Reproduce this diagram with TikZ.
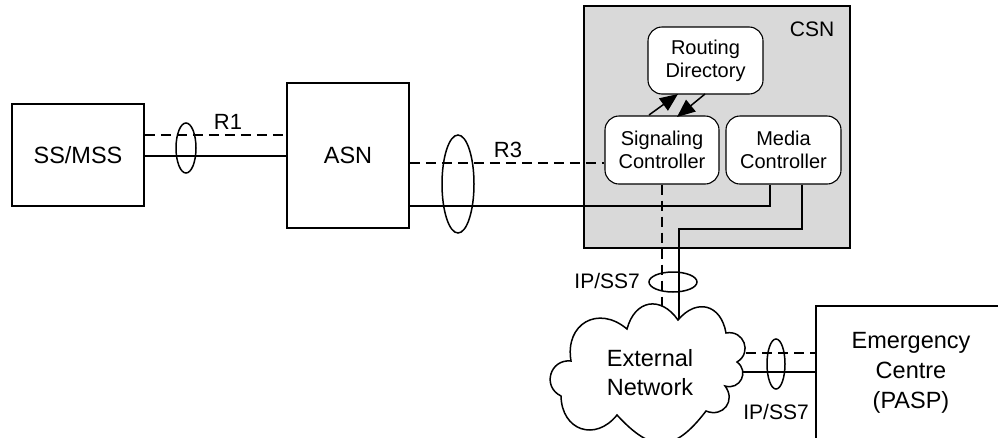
\documentclass[tikz,border=0pt]{standalone}
\usepackage{fontspec}
\setmainfont{Liberation Sans}
\usetikzlibrary{shapes.geometric,arrows.meta,calc}
\definecolor{csngray}{HTML}{D9D9D9}
\tikzset{
  box/.style={draw, line width=1.5pt, align=center, font=\fontsize{23.5}{30}\selectfont, inner sep=0pt},
  rbox/.style={draw, line width=1.1pt, fill=white, rounded corners=14pt, align=center, font=\fontsize{20}{23}\selectfont, inner sep=0pt},
  lbl/.style={font=\fontsize{22}{26}\selectfont, inner sep=0pt},
  solidline/.style={line width=1.5pt},
  dashline/.style={line width=1.5pt, dash pattern=on 10pt off 6pt},
  bundle/.style={draw, line width=1.5pt},
  arr/.style={line width=1.5pt, -{Triangle[length=18pt,width=15pt]}},
  puff/.style={bend left=#1, looseness=1.5}
}
\begin{document}
\begin{tikzpicture}[x=1pt,y=-1pt]
\useasboundingbox (0,0) rectangle (998,437);
\clip (0,0) rectangle (998,437);
% CSN
\node[draw, line width=1.5pt, fill=csngray, minimum width=266pt, minimum height=242pt, inner sep=0pt] (csn) at (717,127) {};
\node[lbl, font=\fontsize{21}{24}\selectfont] (csnlbl) at (812,29.5) {CSN};
\node[rbox, minimum width=115pt, minimum height=67pt] (rd) at (705.5,60.5) {Routing\\Directory};
\node[rbox, minimum width=114pt, minimum height=68pt] (sig) at (662,150) {Signaling\\Controller};
\node[rbox, minimum width=115pt, minimum height=68pt] (med) at (783.5,150) {Media\\Controller};
% other boxes
\node[box, minimum width=132pt, minimum height=102pt] (ss) at (78,155) {SS/MSS};
\node[box, minimum width=122pt, minimum height=145pt] (asn) at (348,155.5) {ASN};
\node[box, minimum width=190pt, minimum height=134pt] (ec) at (911,373) {Emergency\\Centre\\(PASP)};
% level coordinates
\coordinate (y1d) at (0,135);
\coordinate (y1s) at (0,156);
\coordinate (y3d) at (0,163);
\coordinate (y3s) at (0,206);
\coordinate (yed) at (0,353);
\coordinate (yes) at (0,372);
\coordinate (cl) at (650,373);
% arrows between signaling and routing
\coordinate (a1s) at (649,115);
\coordinate (a1e) at (678,94);
\coordinate (a2s) at (705,94);
\coordinate (a2e) at (677,117);
\draw[arr] (a1s) -- (a1e);
\draw[arr] (a2s) -- (a2e);
% R1
\draw[dashline] (ss.east |- y1d) -- (asn.west |- y1d);
\draw[solidline] (ss.east |- y1s) -- (asn.west |- y1s);
\node[bundle, ellipse, minimum width=20pt, minimum height=50pt, inner sep=0pt] (e1) at (186,148) {};
\node[lbl] (r1) at (228,122) {R1};
% R3
\draw[dashline] (asn.east |- y3d) -- (sig.west |- y3d);
\coordinate (m1) at ($(med.south)+(-13.5,0)$);
\coordinate (m2) at ($(med.south)+(18.5,0)$);
\draw[solidline] (asn.east |- y3s) -| (m1);
\node[bundle, ellipse, minimum width=32pt, minimum height=98pt, inner sep=0pt] (e3) at (458,184) {};
\node[lbl] (r3) at (508,150) {R3};
% to external network
\coordinate (k1) at (679,229);
\draw[dashline] (sig.south) -- (sig.south |- cl);
\draw[solidline] (m2) |- (k1) -- (k1 |- cl);
\draw[dashline] (cl |- yed) -- (ec.west |- yed);
\draw[solidline] (cl |- yes) -- (ec.west |- yes);
% cloud
\coordinate (c9) at (571,361);
\coordinate (c1) at (627,329);
\coordinate (c2) at (678,320);
\coordinate (c3) at (726,333);
\coordinate (c4) at (737,362);
\coordinate (c5) at (725,386);
\coordinate (c6) at (706,411);
\coordinate (c7) at (617,415);
\coordinate (c8) at (561,396);
\draw[line width=1.5pt, fill=white]
  (c9) to[puff=70] (c1) to[puff=65] (c2) to[puff=65] (c3) to[puff=80] (c4)
  to[puff=80] (c5) to[puff=75] (c6) to[puff=50] (c7) to[puff=70] (c8)
  to[puff=80] (c9) -- cycle;
\node[align=center, inner sep=0pt, font=\fontsize{23.5}{29}\selectfont] (cloud) at (650,373) {External\\Network};
% IP/SS7 bundles
\node[bundle, ellipse, minimum width=48pt, minimum height=20pt, inner sep=0pt] (e4) at (673,282) {};
\node[lbl, anchor=east, font=\fontsize{21}{24}\selectfont] (ip1) at (640,281) {IP/SS7};
\node[bundle, ellipse, minimum width=18pt, minimum height=50pt, inner sep=0pt] (e5) at (776,364) {};
\node[lbl, font=\fontsize{21}{24}\selectfont] (ip2) at (776,412) {IP/SS7};
\end{tikzpicture}
\end{document}
